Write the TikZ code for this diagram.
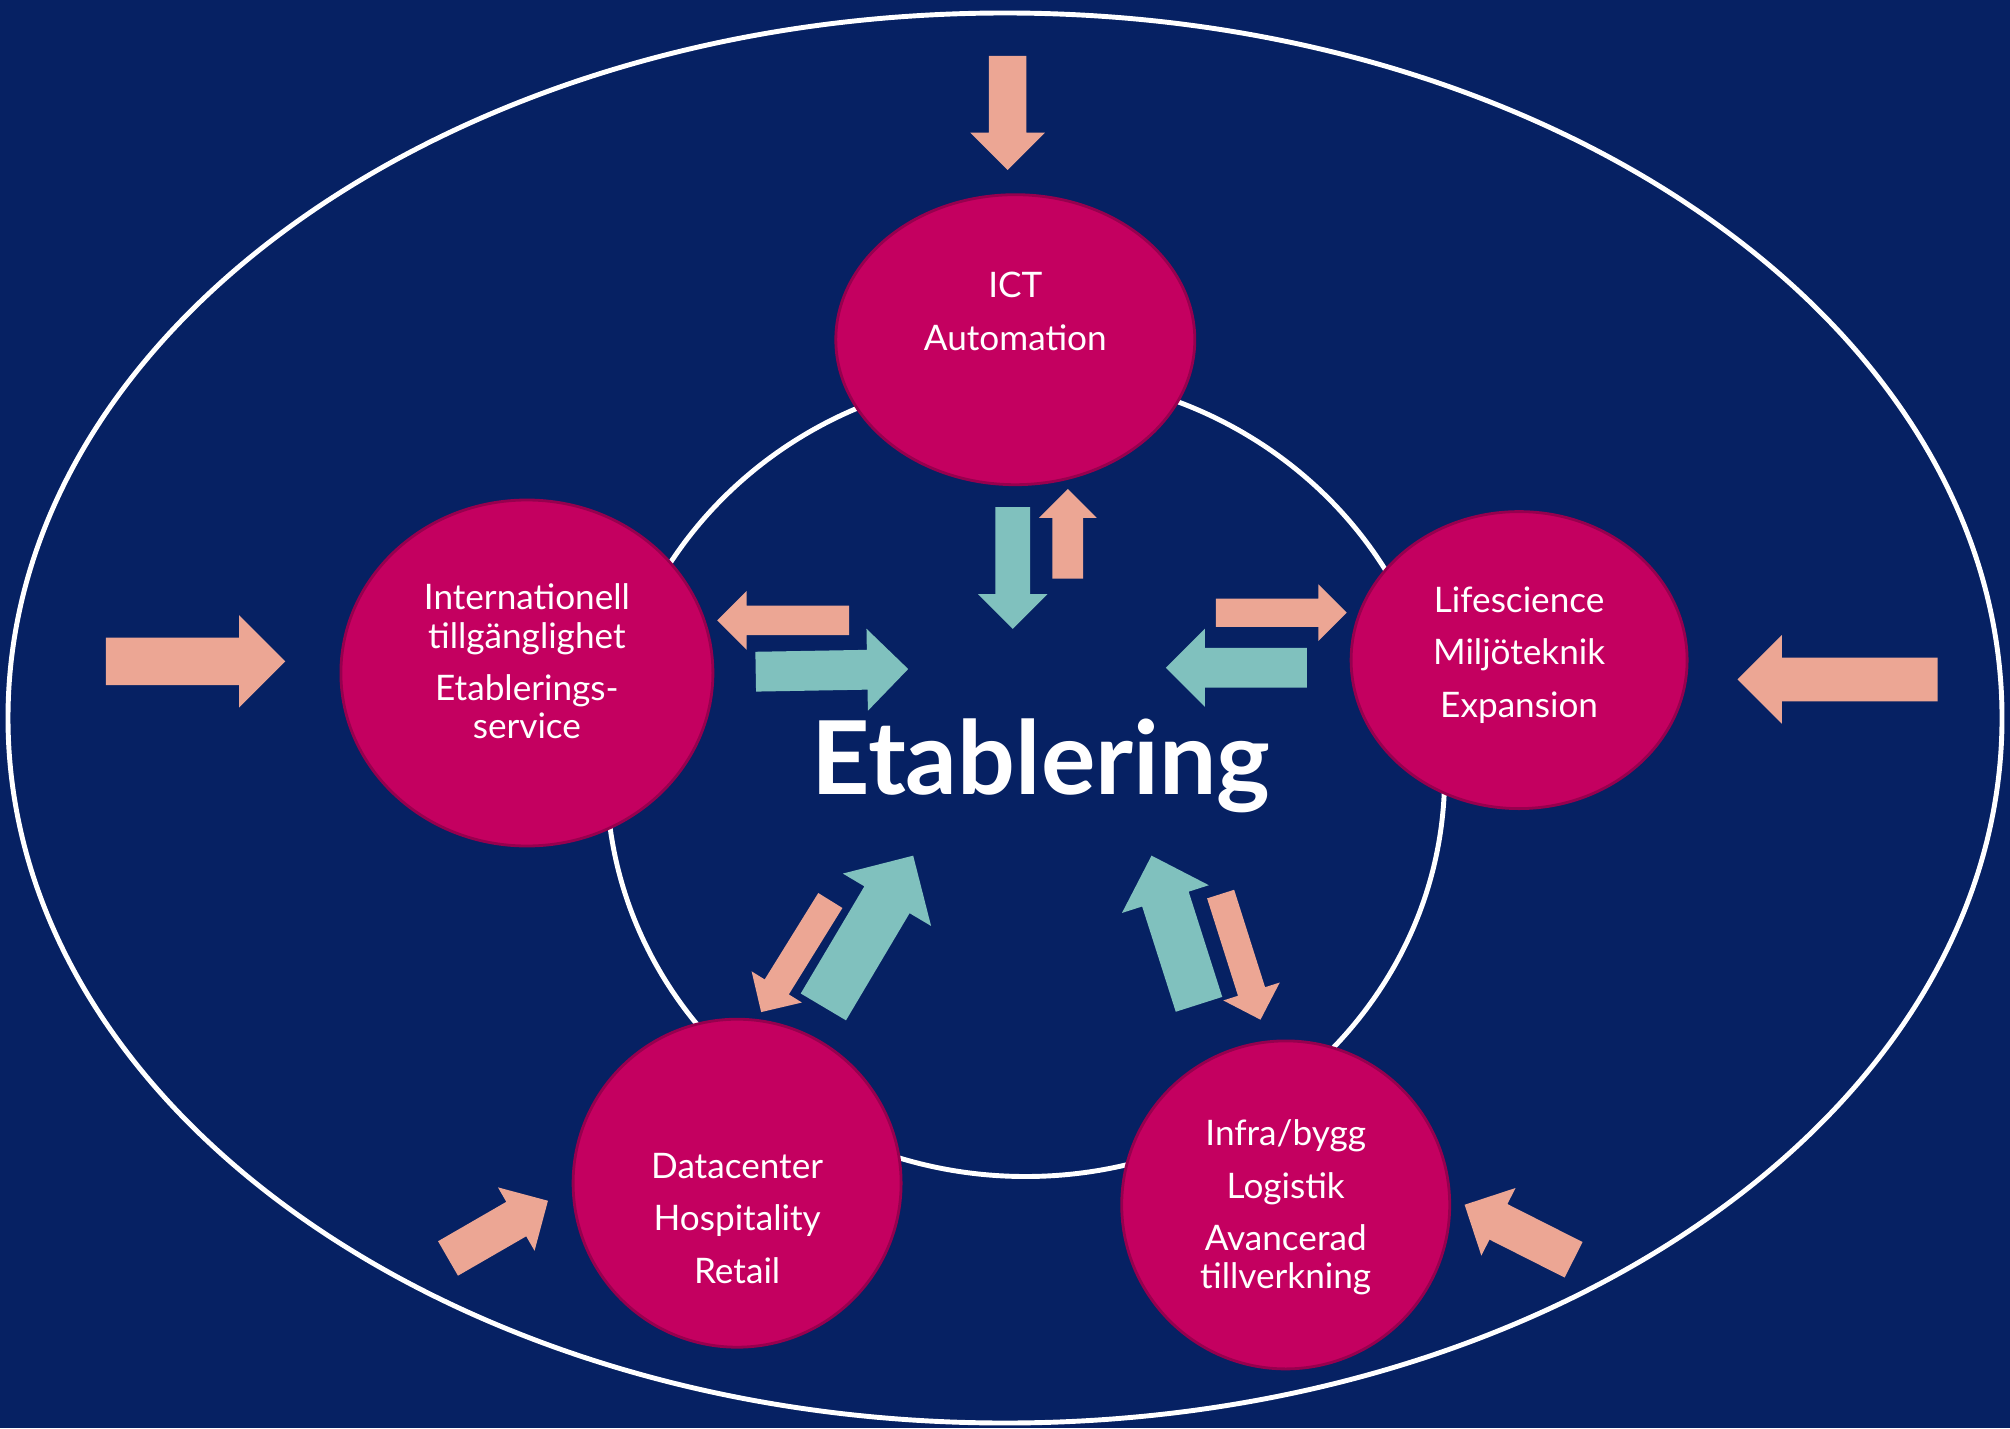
\documentclass[tikz,border=0pt]{standalone}
\usepackage{fontspec}
\setmainfont{Lato}
\usetikzlibrary{shapes.geometric,shapes.arrows}
\definecolor{navybg}{RGB}{6,33,99}
\definecolor{rosered}{RGB}{196,0,96}
\definecolor{rosedark}{RGB}{150,0,78}
\definecolor{salmonpk}{RGB}{236,166,148}
\definecolor{tealgr}{RGB}{128,193,190}
\begin{document}
\begin{tikzpicture}[
  blob/.style={ellipse, fill=rosered, draw=rosedark, line width=0.8pt, inner sep=0pt},
  lbl/.style={align=center, text=white, font=\fontsize{10}{10.9}\selectfont},
  blk/.style n args={5}{single arrow, fill=#1, rotate=#2, minimum height=#3cm,
    inner ysep=#4cm, single arrow head extend=#5cm, inner xsep=0pt,
    minimum width=0pt, anchor=tail}
]
\fill[navybg] (0,0) rectangle (20.1,14.28);
\useasboundingbox (0,0) rectangle (20.1,14.28);

\draw[white, line width=1.4pt] (10.05,7.10) ellipse [x radius=9.97, y radius=7.05];
\draw[white, line width=1.4pt] (10.256,6.525) ellipse [x radius=4.19, y radius=4.01];


\node[blob, minimum width=3.59cm, minimum height=2.90cm] (v1) at (10.153,10.883) {};
\node[blob, minimum width=3.72cm, minimum height=3.46cm] (v2) at (5.269,7.550) {};
\node[blob, minimum width=3.36cm, minimum height=2.97cm] (v3) at (15.191,7.679) {};
\node[blob, minimum width=3.28cm, minimum height=3.28cm] (v4) at (7.371,2.448) {};
\node[blob, minimum width=3.28cm, minimum height=3.28cm] (v5) at (12.857,2.231) {};

\node[lbl] (t1) at (10.153,11.165) {ICT\\[4pt]Automation};
\node[lbl] (t2) at (5.269,7.666) {Internationell\\tillgänglighet\\[4pt]Etablerings-\\service};
\node[lbl] (t3) at (15.191,7.730) {Lifescience\\[4pt]Miljöteknik\\[4pt]Expansion};
\node[lbl] (t4) at (7.371,2.096) {Datacenter\\[4pt]Hospitality\\[4pt]Retail};
\node[lbl] (t5) at (12.857,2.205) {Infra/bygg\\[4pt]Logistik\\[4pt]Avancerad\\tillverkning};

\node[text=white, anchor=base, font=\fontsize{29}{31}\selectfont\bfseries] (t0) at (10.409,6.333) {Etablering};


\node[blk={salmonpk}{-90}{1.141}{0.180}{0.186}] (a1) at (10.076,13.729) {};
\node[blk={salmonpk}{0}{1.795}{0.231}{0.224}] (a2) at (1.051,7.666) {};
\node[blk={salmonpk}{180}{2.000}{0.212}{0.224}] (a3) at (19.382,7.486) {};
\node[blk={salmonpk}{30}{1.154}{0.192}{0.167}] (a4) at (4.474,1.692) {};
\node[blk={salmonpk}{153.2}{1.221}{0.192}{0.180}] (a5) at (15.742,1.679) {};

\node[blk={tealgr}{-90}{1.218}{0.167}{0.173}] (a6) at (10.127,9.217) {};
\node[blk={salmonpk}{90}{0.897}{0.147}{0.135}] (a7) at (10.678,8.486) {};
\node[blk={salmonpk}{180}{1.320}{0.141}{0.147}] (a8) at (8.499,8.076) {};
\node[blk={tealgr}{1}{1.525}{0.192}{0.211}] (a9) at (7.550,7.563) {};
\node[blk={salmonpk}{0}{1.308}{0.135}{0.141}] (a10) at (12.152,8.153) {};
\node[blk={tealgr}{180}{1.410}{0.192}{0.192}] (a11) at (13.075,7.602) {};

\node[blk={tealgr}{59.3}{1.759}{0.256}{0.250}] (a12) at (8.230,4.205) {};
\node[blk={salmonpk}{-121.8}{1.313}{0.135}{0.154}] (a13) at (8.307,5.281) {};
\node[blk={tealgr}{107.7}{1.561}{0.237}{0.212}] (a14) at (11.992,4.230) {};
\node[blk={salmonpk}{-72.4}{1.318}{0.135}{0.154}] (a15) at (12.204,5.346) {};
\end{tikzpicture}
\end{document}
